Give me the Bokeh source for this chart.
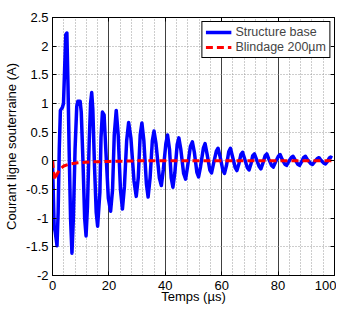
from bokeh.plotting import figure
from bokeh.models import (Range1d, SingleIntervalTicker, FixedTicker, LinearAxis,
                          Legend, LegendItem)
from bokeh.embed import file_html
from bokeh.resources import INLINE

# ---- data ----
t_base = [0.0, 0.3, 0.6, 1.0, 1.6, 2.0, 2.4, 2.8, 3.5, 3.9, 4.3, 4.7, 5.1, 5.5, 5.9,
          6.4, 6.9, 7.4, 8.0, 8.6, 9.0, 9.8, 10.2, 10.8, 11.4, 11.9, 12.4, 13.0, 13.5,
          13.9, 14.3, 14.9, 15.5, 16.0, 16.8, 17.2, 17.7, 18.3, 18.9, 19.8, 20.6,
          21.3, 21.9, 22.6, 23.3, 24.1, 24.8, 25.5, 26.3, 27.0, 27.8, 28.9, 29.7,
          30.4, 31.1, 31.7, 32.4, 33.3, 33.9, 34.6, 35.4, 36.0, 36.7, 37.9, 38.6,
          39.3, 40.2, 40.8, 41.5, 42.1, 42.7, 43.4, 44.2, 44.8, 45.5, 46.5, 47.2,
          47.9, 48.9, 49.6, 50.3, 51.2, 51.8, 52.5, 53.5, 54.1, 54.8, 55.8, 56.4,
          57.1, 58.1, 58.7, 59.4, 60.4, 61.0, 61.7, 62.5, 63.1, 63.8, 64.8, 65.4,
          66.1, 66.8, 67.4, 68.1, 69.1, 69.7, 70.4, 71.0, 71.6, 72.3, 73.3, 73.9,
          74.6, 75.4, 76.0, 76.7, 77.7, 78.3, 79.0, 80.1, 80.7, 81.4, 82.4, 83.0,
          83.7, 84.7, 85.3, 86.0, 87.0, 87.6, 88.3, 89.1, 89.7, 90.4, 91.6, 92.2,
          92.9, 93.9, 94.5, 95.2, 96.2, 96.8, 97.5, 98.2, 98.6, 99.2]
i_base = [0.0, -0.6, -1.15, -1.25, -1.48, -0.9, 0.2, 0.88, 0.93, 1.0, 1.6, 2.2, 2.23,
          1.3, 0.2, -1.0, -1.61, -1.0, 0.2, 0.95, 1.04, 1.04, 0.85, 0.0, -1.0, -1.31,
          -0.8, 0.3, 1.0, 1.19, 0.9, -0.1, -0.9, -1.14, -0.55, 0.4, 0.85, 0.80, 0.2,
          -0.65, -0.88, -0.5, 0.45, 0.88, 0.45, -0.5, -0.84, -0.45, 0.35, 0.67, 0.4,
          -0.35, -0.62, -0.3, 0.45, 0.66, 0.35, -0.4, -0.63, -0.3, 0.35, 0.52, 0.3,
          -0.3, -0.43, -0.15, 0.3, 0.45, 0.2, -0.3, -0.46, -0.2, 0.28, 0.40, 0.2,
          -0.22, -0.32, -0.1, 0.25, 0.33, 0.15, -0.2, -0.28, -0.1, 0.22, 0.30, 0.12,
          -0.16, -0.21, -0.05, 0.17, 0.22, 0.08, -0.16, -0.22, -0.08, 0.16, 0.22, 0.08,
          -0.12, -0.17, -0.05, 0.11, 0.15, 0.04, -0.12, -0.16, -0.05, 0.09, 0.12, 0.03,
          -0.1, -0.14, -0.04, 0.09, 0.12, 0.03, -0.08, -0.11, -0.03, 0.08, 0.11, 0.03,
          -0.06, -0.08, -0.02, 0.06, 0.08, 0.02, -0.06, -0.08, -0.02, 0.06, 0.08, 0.02,
          -0.05, -0.065, -0.02, 0.04, 0.055, 0.01, -0.04, -0.055, -0.01, 0.05, 0.065,
          0.05]

t_shield = [0.0, 0.4, 0.9, 1.4, 2.5, 4.0, 6.0, 9.0, 13.0, 20.0, 30.0, 100.0]
i_shield = [0.0, -0.2, -0.33, -0.25, -0.15, -0.09, -0.055, -0.035, -0.02, -0.01, 0.0, 0.0]

series_names = ["Structure base", "Blindage 200\u00b5m"]
y_ticks = [-2, -1.5, -1, -0.5, 0, 0.5, 1, 1.5, 2, 2.5]
y_tick_labels = ["-2", "-1.5", "-1", "-0.5", "0", "0.5", "1", "1.5", "2", "2.5"]
x_label = "Temps (\u00b5s)"
y_label = "Courant ligne souterraine (A)"

FONT = "Liberation Sans"

p = figure(width=336, height=306, output_backend="svg", toolbar_location=None,
           x_range=Range1d(0, 100), y_range=Range1d(-2, 2.5),
           min_border_left=52, min_border_right=2, min_border_top=17,
           min_border_bottom=10, x_axis_location="below")

p.outline_line_color = "black"
p.background_fill_color = "white"
p.border_fill_color = "white"

p.xaxis.ticker = SingleIntervalTicker(interval=20, num_minor_ticks=5)
p.yaxis.ticker = FixedTicker(ticks=y_ticks)
p.yaxis.major_label_overrides = {v: s for v, s in zip(y_ticks, y_tick_labels)}

for ax in [p.xaxis[0], p.yaxis[0]]:
    ax.major_tick_in = 4
    ax.major_tick_out = 0
    ax.minor_tick_line_color = None
    ax.major_label_text_font = FONT
    ax.major_label_text_font_size = "13px"
    ax.major_label_text_color = "black"
    ax.axis_line_color = "black"
    ax.major_tick_line_color = "black"
    ax.axis_label_text_font = FONT
    ax.axis_label_text_font_size = "13px"
    ax.axis_label_text_font_style = "normal"
    ax.axis_label_text_color = "black"
p.xaxis.major_label_standoff = 1
p.xaxis.axis_label = x_label
p.xaxis.axis_label_standoff = -4
p.yaxis.major_label_standoff = 4
p.yaxis.axis_label = y_label
p.yaxis.axis_label_standoff = 4

# MATLAB-style box: tick marks on the right and top edges, no labels drawn there
ax_r = LinearAxis(ticker=FixedTicker(ticks=y_ticks), major_label_text_font_size="1px",
                  major_label_text_color=None, major_label_standoff=0,
                  major_tick_in=4, major_tick_out=0, minor_tick_line_color=None)
ax_t = LinearAxis(ticker=SingleIntervalTicker(interval=20, num_minor_ticks=5),
                  major_label_text_font_size="1px", major_label_text_color=None,
                  major_label_standoff=0, major_tick_in=4, major_tick_out=0,
                  minor_tick_line_color=None)
p.add_layout(ax_r, "right")
p.add_layout(ax_t, "above")

p.xgrid.grid_line_color = "#404040"
p.xgrid.grid_line_width = 1
p.xgrid.minor_grid_line_color = "#9a9a9a"
p.xgrid.minor_grid_line_dash = "1 2"
p.ygrid.grid_line_color = "#9a9a9a"
p.ygrid.grid_line_dash = "1 2"

r1 = p.line(t_base, i_base, line_color="#0000ff", line_width=3.5, line_join="round")
r2 = p.line(t_shield, i_shield, line_color="#ff0000", line_width=3, line_dash="7 4")

legend = Legend(items=[LegendItem(label=series_names[0], renderers=[r1]),
                       LegendItem(label=series_names[1], renderers=[r2])],
                location="top_right")
legend.border_line_color = "black"
legend.border_line_alpha = 1
legend.background_fill_color = "white"
legend.background_fill_alpha = 1
legend.label_text_font = FONT
legend.label_text_font_size = "12.5px"
legend.glyph_width = 26
legend.glyph_height = 12
legend.label_height = 12
legend.spacing = 1
legend.padding = 3
legend.margin = 4
legend.label_standoff = 4
p.add_layout(legend, "center")

open("out.html", "w").write(file_html(p, INLINE))
